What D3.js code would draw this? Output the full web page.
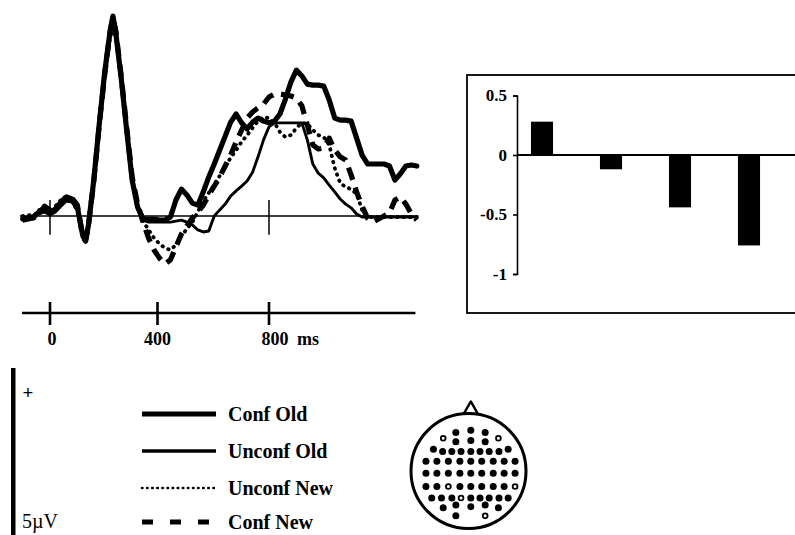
<!DOCTYPE html>
<html>
<head>
<meta charset="utf-8">
<script src="https://cdn.jsdelivr.net/npm/d3@7"></script>
<style>
  body { margin: 0; background: #fff; }
  svg { display: block; }
  text { font-family: "Liberation Serif", "Times New Roman", serif; fill: #000; }
</style>
</head>
<body>
<svg id="fig" width="795" height="535"></svg>
<script>
// ---- ERP waveforms (time in ms, amplitude in µV, positive up) ----
const times = [-100,-80,-60,-40,-20,0,20,40,60,80,100,120,130,140,160,180,200,220,230,240,260,280,300,320,
  340,360,380,400,420,440,460,480,500,520,540,560,580,600,
  620,640,660,680,700,720,740,760,780,800,820,840,860,880,900,920,
  940,960,980,1000,1020,1040,1060,1080,1100,1120,1140,1160,1180,1200,1220,1240,1260,1280,1300,1320,1340];

const confOld = [-0.09,-0.06,-0.03,0.12,0.24,0.09,0.21,0.41,0.56,0.50,0.26,-0.59,-0.71,-0.29,1.06,2.71,4.24,5.47,5.88,5.41,4.06,2.53,1.06,0.26,
  -0.09,-0.09,-0.09,-0.12,-0.12,-0.03,0.47,0.79,0.62,0.38,0.32,0.71,1.15,1.53,
  1.94,2.35,2.76,3.00,2.74,2.56,2.76,2.88,2.79,2.74,2.79,3.00,3.44,3.94,4.29,4.12,
  3.88,3.85,3.85,3.82,3.41,2.88,2.82,2.82,2.79,2.29,1.79,1.53,1.53,1.53,1.53,1.47,1.06,1.24,1.47,1.50,1.47];

const unconfOld = [-0.06,-0.03,0.00,0.06,0.12,0.03,0.12,0.29,0.44,0.41,0.18,-0.53,-0.62,-0.18,1.12,2.76,4.24,5.35,5.74,5.35,4.00,2.44,1.00,0.21,
  -0.12,-0.18,-0.18,-0.18,-0.18,-0.18,-0.15,-0.12,-0.18,-0.26,-0.41,-0.47,-0.44,0.00,
  0.18,0.35,0.59,0.74,0.88,1.03,1.29,1.74,2.24,2.62,2.74,2.74,2.74,2.74,2.74,2.74,
  2.24,1.53,1.26,1.12,0.91,0.71,0.50,0.35,0.24,0.06,-0.03,-0.03,-0.03,-0.03,-0.03,-0.03,-0.03,-0.03,-0.03,-0.03,-0.03];

const unconfNew = [0.00,0.03,0.00,0.18,0.15,0.12,0.29,0.47,0.50,0.44,0.15,-0.56,-0.68,-0.24,1.00,2.62,4.12,5.26,5.62,5.26,3.97,2.50,1.09,0.29,
  -0.15,-0.41,-0.65,-0.82,-0.94,-1.00,-0.85,-0.59,-0.38,-0.18,0.12,0.44,0.68,0.91,
  1.18,1.47,1.71,1.94,2.18,2.38,2.59,2.79,2.91,2.88,2.74,2.47,2.32,2.38,2.59,2.74,
  2.71,2.53,2.38,2.32,2.09,1.41,0.97,0.85,0.79,0.65,0.18,-0.03,-0.03,-0.03,-0.03,-0.03,-0.03,-0.03,-0.03,-0.03,-0.03];

const confNew = [-0.12,-0.09,-0.06,0.06,0.29,0.18,0.26,0.35,0.59,0.53,0.32,-0.62,-0.74,-0.32,1.03,2.68,4.18,5.44,5.79,5.47,4.12,2.62,1.15,0.35,
  -0.18,-0.65,-1.00,-1.24,-1.41,-1.29,-0.91,-0.53,-0.29,-0.06,0.12,0.32,0.62,0.88,
  1.15,1.47,1.79,2.18,2.53,2.88,3.06,3.18,3.29,3.50,3.59,3.59,3.56,3.53,3.47,3.24,
  2.68,2.09,1.97,2.00,2.29,1.94,1.74,1.65,1.21,0.71,0.29,-0.06,-0.18,-0.09,0.00,0.09,0.47,0.56,0.35,0.06,-0.12];

const seriesNames = ["Conf Old", "Unconf Old", "Unconf New", "Conf New"];
const timeTicks = [0, 400, 800];
const timeUnit = "ms";
const scaleBarMicroV = 5;

// ---- bar panel ----
const barCategories = ["Conf Old", "Unconf Old", "Unconf New", "Conf New"];
const barValues = [0.28, -0.12, -0.44, -0.76];
const barTicks = [0.5, 0, -0.5, -1];

// ---- electrode montage (head-normalised coordinates, nose up) ----
const elecX = [-0.22,0.04,0.29,
  -0.44,-0.22,0.04,0.29,0.52,
  -0.61,-0.45,-0.29,-0.13,0.04,0.20,0.36,0.53,0.69,
  -0.74,-0.55,-0.35,-0.15,0.04,0.23,0.43,0.62,0.81,
  -0.74,-0.55,-0.35,-0.15,0.04,0.23,0.43,0.62,0.81,
  -0.74,-0.55,-0.35,-0.15,0.04,0.23,0.43,0.62,0.81,
  -0.64,-0.47,-0.29,-0.13,0.04,0.20,0.36,0.53,0.69,
  -0.44,-0.22,0.04,0.29,0.52,
  -0.22,0.29];
const elecY = [-0.67,-0.71,-0.67,
  -0.57,-0.51,-0.53,-0.51,-0.57,
  -0.38,-0.34,-0.34,-0.34,-0.34,-0.34,-0.34,-0.34,-0.38,
  -0.17,-0.17,-0.17,-0.17,-0.17,-0.17,-0.17,-0.17,-0.17,
  0.04,0.04,0.04,0.04,0.04,0.04,0.04,0.04,0.04,
  0.27,0.27,0.27,0.27,0.27,0.27,0.27,0.27,0.27,
  0.47,0.47,0.47,0.47,0.47,0.47,0.47,0.47,0.47,
  0.64,0.59,0.62,0.59,0.64,
  0.78,0.78];
const elecHollow = [0,0,0,
  1,0,0,0,1,
  0,0,0,0,0,0,0,0,0,
  0,0,0,0,0,0,0,0,0,
  0,0,0,0,0,0,0,0,0,
  0,0,1,0,0,0,0,0,1,
  0,0,0,1,0,0,0,0,0,
  0,0,0,0,0,
  0,1];

// ---- drawing ----
const svg = d3.select("#fig");
const ink = "#000";

const x = d3.scaleLinear().domain([0, 800]).range([50, 269]);
const y = d3.scaleLinear().domain([0, 5]).range([216, 46]);

const series = {
  "Conf Old":   confOld,
  "Unconf Old": unconfOld,
  "Unconf New": unconfNew,
  "Conf New":   confNew
};
const style = {
  "Conf Old":   { w: 5.2, dash: null,      cap: "round", lw: 5.0, ldash: null },
  "Unconf Old": { w: 2.9, dash: null,      cap: "round", lw: 3.4, ldash: null },
  "Unconf New": { w: 3.8, dash: "0.5 6",   cap: "round", lw: 2.6, ldash: "0.5 4.6" },
  "Conf New":   { w: 5.2, dash: "13 8",    cap: "butt",  lw: 5.0, ldash: "11 17" }
};

// zero-amplitude baseline with stimulus-onset and 800 ms marks
svg.append("line")
  .attr("x1", x(-110)).attr("x2", x(1345))
  .attr("y1", y(0)).attr("y2", y(0))
  .attr("stroke", ink).attr("stroke-width", 1.3);
svg.selectAll("line.vmark").data([0, 800]).join("line")
  .attr("class", "vmark")
  .attr("x1", d => x(d)).attr("x2", d => x(d))
  .attr("y1", y(0.47)).attr("y2", y(-0.55))
  .attr("stroke", ink).attr("stroke-width", 1.5);

const line = d3.line()
  .x((d, i) => x(times[i]))
  .y(d => y(d))
  .curve(d3.curveLinear);

["Unconf Old", "Unconf New", "Conf New", "Conf Old"].forEach(name => {
  const s = style[name];
  svg.append("path")
    .datum(series[name])
    .attr("d", line)
    .attr("fill", "none")
    .attr("stroke", ink)
    .attr("stroke-width", s.w)
    .attr("stroke-linejoin", "round")
    .attr("stroke-linecap", s.cap)
    .attr("stroke-dasharray", s.dash);
});

// time axis below the traces
const axisY = 313;
svg.append("line")
  .attr("x1", x(-102)).attr("x2", x(1335))
  .attr("y1", axisY).attr("y2", axisY)
  .attr("stroke", ink).attr("stroke-width", 2.6);
svg.selectAll("line.tt").data(timeTicks).join("line")
  .attr("class", "tt")
  .attr("x1", d => x(d) - (d === 400 ? 2 : 0)).attr("x2", d => x(d) - (d === 400 ? 2 : 0))
  .attr("y1", axisY - 11).attr("y2", axisY + 12)
  .attr("stroke", ink).attr("stroke-width", 2.6);
svg.selectAll("text.tl").data(timeTicks).join("text")
  .attr("class", "tl")
  .attr("x", d => x(d) + (d === 0 ? 2 : d === 400 ? -2 : 6))
  .attr("y", 345)
  .attr("text-anchor", "middle")
  .attr("font-size", 18).attr("font-weight", "bold")
  .text(d => d);
svg.append("text")
  .attr("x", x(800) + 28).attr("y", 345)
  .attr("font-size", 18).attr("font-weight", "bold")
  .text(timeUnit);

// amplitude calibration bar
svg.append("rect")
  .attr("x", 11).attr("y", 368)
  .attr("width", 4.5)
  .attr("height", y(0) - y(scaleBarMicroV))
  .attr("fill", ink);
svg.append("text")
  .attr("x", 28).attr("y", 398.5)
  .attr("text-anchor", "middle")
  .attr("font-size", 19).attr("font-weight", "bold")
  .text("+");
svg.append("text")
  .attr("x", 22).attr("y", 528)
  .attr("font-size", 20)
  .text(scaleBarMicroV + "\u00B5V");

// legend
const legendRows = [414, 451, 488, 522];
const lg = svg.append("g");
seriesNames.forEach((name, i) => {
  const s = style[name];
  lg.append("line")
    .attr("x1", 142).attr("x2", 216)
    .attr("y1", legendRows[i]).attr("y2", legendRows[i])
    .attr("stroke", ink)
    .attr("stroke-width", s.lw)
    .attr("stroke-linecap", name === "Unconf New" ? "round" : "butt")
    .attr("stroke-dasharray", s.ldash);
  lg.append("text")
    .attr("x", 228).attr("y", legendRows[i] + 6.5)
    .attr("font-size", 20).attr("font-weight", "bold")
    .text(name);
});

// bar panel
svg.append("rect")
  .attr("x", 467).attr("y", 75)
  .attr("width", 340).attr("height", 238)
  .attr("fill", "none").attr("stroke", ink).attr("stroke-width", 1.8);

const by = d3.scaleLinear().domain([-1, 0.5]).range([274, 95.5]);
const bx = d3.scaleBand().domain(barCategories)
  .range([507.5, 783.5]).paddingInner(0.68).paddingOuter(0.34);

svg.selectAll("rect.bar").data(barValues).join("rect")
  .attr("class", "bar")
  .attr("x", (d, i) => bx(barCategories[i]))
  .attr("width", bx.bandwidth())
  .attr("y", d => by(Math.max(0, d)))
  .attr("height", d => Math.abs(by(d) - by(0)))
  .attr("fill", ink);

svg.append("line")
  .attr("x1", 517).attr("x2", 795)
  .attr("y1", by(0)).attr("y2", by(0))
  .attr("stroke", ink).attr("stroke-width", 1.8);

const yAxis = svg.append("g")
  .attr("transform", "translate(517,0)")
  .call(d3.axisLeft(by).tickValues(barTicks).tickSize(4).tickPadding(6)
    .tickFormat(d => String(d)));
yAxis.select(".domain").attr("stroke", ink).attr("stroke-width", 1.6);
yAxis.selectAll(".tick line").attr("stroke", ink).attr("stroke-width", 1.6);
yAxis.selectAll(".tick text")
  .attr("font-family", "Liberation Serif, Times New Roman, serif")
  .attr("font-size", 17).attr("font-weight", "bold").attr("fill", ink);

// head with electrode montage
const cx = 468.5, cy = 471, r = 57.5;
const hx = d3.scaleLinear().domain([-1, 1]).range([cx - r, cx + r]);
const hy = d3.scaleLinear().domain([-1, 1]).range([cy - r, cy + r]);
svg.append("path")
  .attr("d", `M${hx(-0.09)},${hy(-0.98)} L${hx(0.04)},${hy(-1.21)} L${hx(0.17)},${hy(-0.98)}`)
  .attr("fill", "none").attr("stroke", ink).attr("stroke-width", 2.4)
  .attr("stroke-linejoin", "round");
svg.append("circle")
  .attr("cx", hx(0)).attr("cy", hy(0)).attr("r", r)
  .attr("fill", "#fff").attr("stroke", ink).attr("stroke-width", 3);
svg.selectAll("circle.el").data(elecX).join("circle")
  .attr("class", "el")
  .attr("cx", d => hx(d))
  .attr("cy", (d, i) => hy(elecY[i]))
  .attr("r", (d, i) => elecHollow[i] ? 2.4 : 3.5)
  .attr("fill", (d, i) => elecHollow[i] ? "#fff" : ink)
  .attr("stroke", ink)
  .attr("stroke-width", (d, i) => elecHollow[i] ? 1.8 : 0);
</script>
</body>
</html>
